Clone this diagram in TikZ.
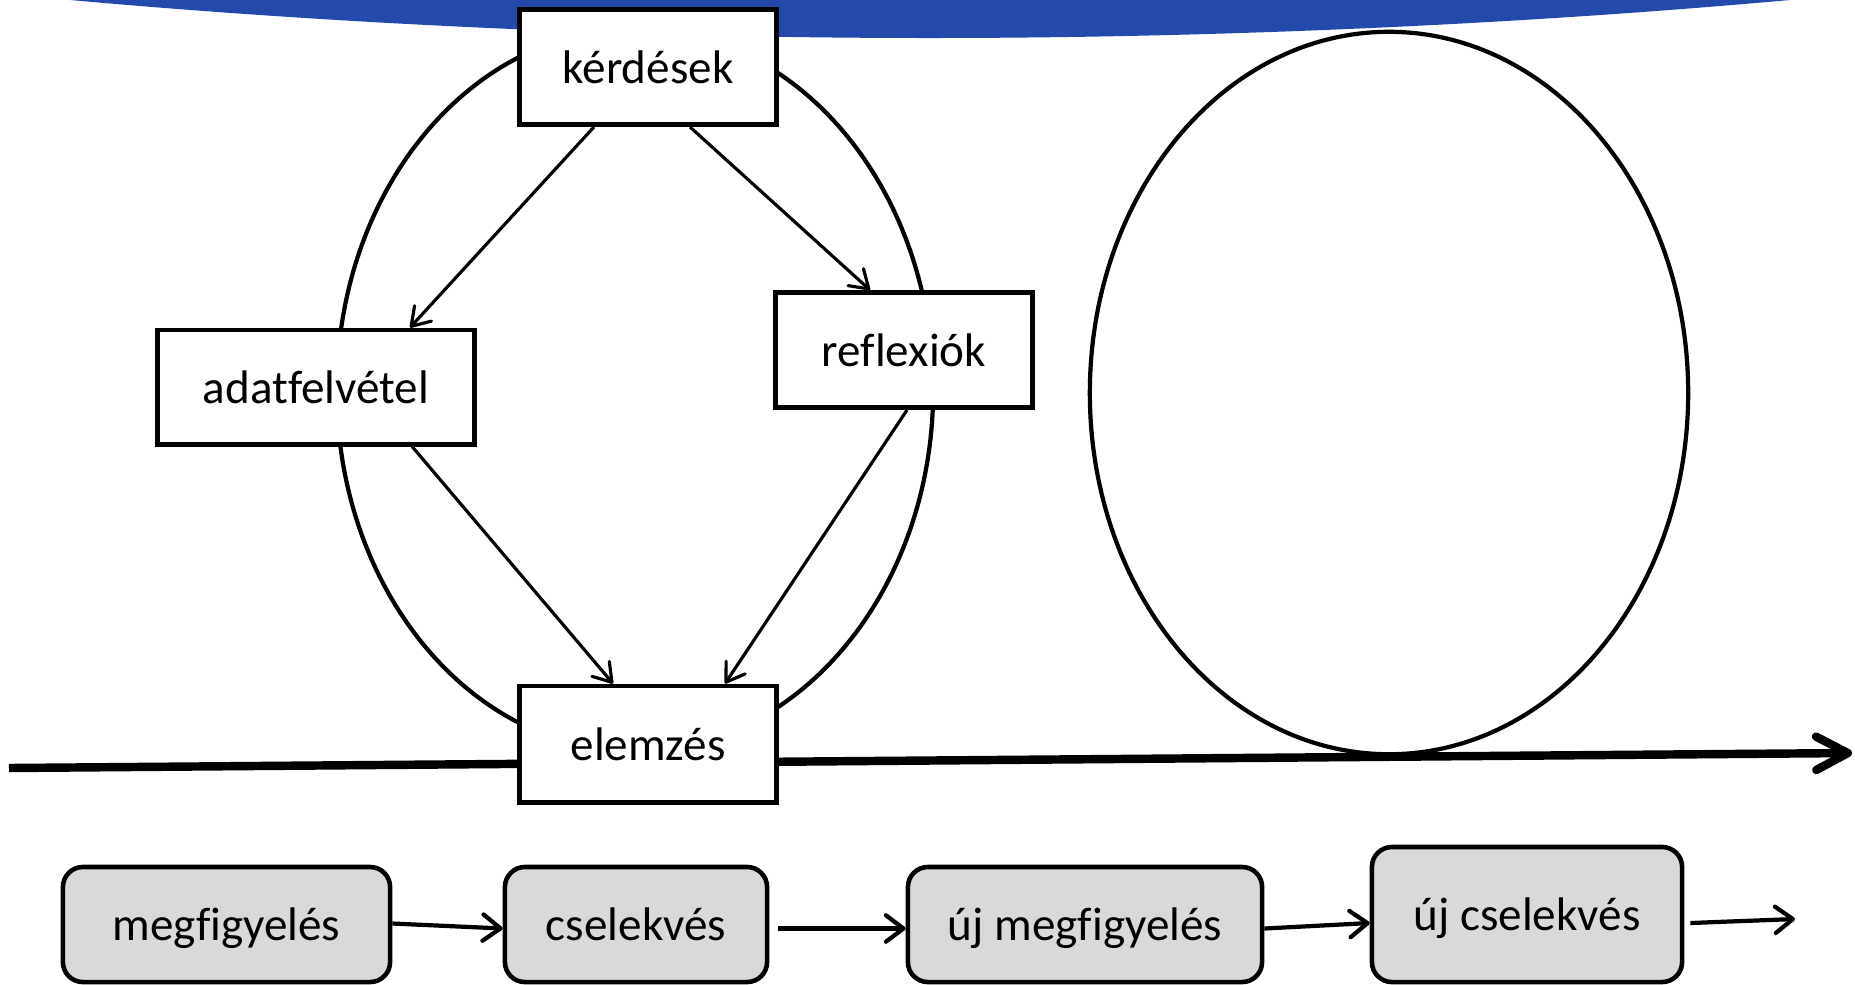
\documentclass[tikz,border=0pt]{standalone}
\usepackage{fontspec}
\setmainfont[Ligatures={NoCommon}]{Carlito}
\usetikzlibrary{arrows.meta,calc}
\definecolor{topblue}{RGB}{35,74,171}
\definecolor{boxgray}{RGB}{217,217,217}
\begin{document}
\begin{tikzpicture}[x=0.01cm,y=-0.01cm,
  txt/.style={font=\fontsize{13.4}{16}\selectfont, text depth=0pt},
  cyclebox/.style={txt, draw=black, fill=white, line width=1.4pt, inner sep=0pt},
  stagebox/.style={txt, draw=black, fill=boxgray, line width=1.3pt, rounded corners=0.2cm, inner sep=0pt},
  ring/.style={draw=black, line width=1.2pt},
  cyclearrow/.style={line width=0.9pt, -{Straight Barb[round,length=5pt,width=6.5pt]}},
  stagearrow/.style={line width=1.2pt, -{Straight Barb[round,length=5pt,width=7.5pt]}},
  timeline/.style={line width=2.4pt, -{Straight Barb[round,length=9pt,width=9.5pt]}}]
\useasboundingbox (0,0) rectangle (1855,984);
% blue band at top
\fill[topblue] (70,0) parabola bend (930,38) (1790,0) -- cycle;
% ellipses
\draw[ring] (635,390) ellipse [x radius=2.98cm, y radius=3.61cm];
\draw[ring] (1389,393) ellipse [x radius=2.99cm, y radius=3.61cm];
% timeline
\coordinate (tl) at (9,768);
\coordinate (tr) at (1852,753);
\draw[timeline] (tl) -- (tr);
% cycle boxes
\node[cyclebox, minimum width=2.57cm, minimum height=1.15cm] (k) at (648,67) {kérdések};
\node[cyclebox, minimum width=3.17cm, minimum height=1.14cm] (a) at (316,387) {adatfelvétel};
\node[cyclebox, minimum width=2.56cm, minimum height=1.15cm] (r) at (904,350) {reflexiók};
\node[cyclebox, minimum width=2.57cm, minimum height=1.16cm] (e) at (648,744) {elemzés};
% cycle arrows
\draw[cyclearrow] ([xshift=-0.54cm]k.south) -- ([xshift=0.94cm]a.north);
\draw[cyclearrow] ([xshift=0.42cm]k.south) -- ([xshift=-0.34cm]r.north);
\draw[cyclearrow] ([xshift=0.96cm]a.south) -- ([xshift=-0.35cm]e.north);
\draw[cyclearrow] ([xshift=0.03cm]r.south) -- ([xshift=0.77cm]e.north);
% bottom stages
\node[stagebox, minimum width=3.27cm, minimum height=1.15cm] (s1) at (226.5,924.5) {megfigyelés};
\node[stagebox, minimum width=2.62cm, minimum height=1.15cm] (s2) at (636,924.5) {cselekvés};
\node[stagebox, minimum width=3.54cm, minimum height=1.15cm] (s3) at (1085,924.5) {új megfigyelés};
\node[stagebox, minimum width=3.10cm, minimum height=1.35cm] (s4) at (1527,914.5) {új cselekvés};
\coordinate (out) at (1795,919);
\draw[stagearrow] ([yshift=0.01cm]s1.east) -- ([yshift=-0.04cm]s2.west);
\draw[stagearrow] ([xshift=0.09cm,yshift=-0.04cm]s2.east) -- ([yshift=-0.04cm]s3.west);
\draw[stagearrow] ([yshift=-0.04cm]s3.east) -- ([yshift=-0.085cm]s4.west);
\draw[stagearrow] ([xshift=0.06cm,yshift=-0.085cm]s4.east) -- (out);
\end{tikzpicture}
\end{document}
